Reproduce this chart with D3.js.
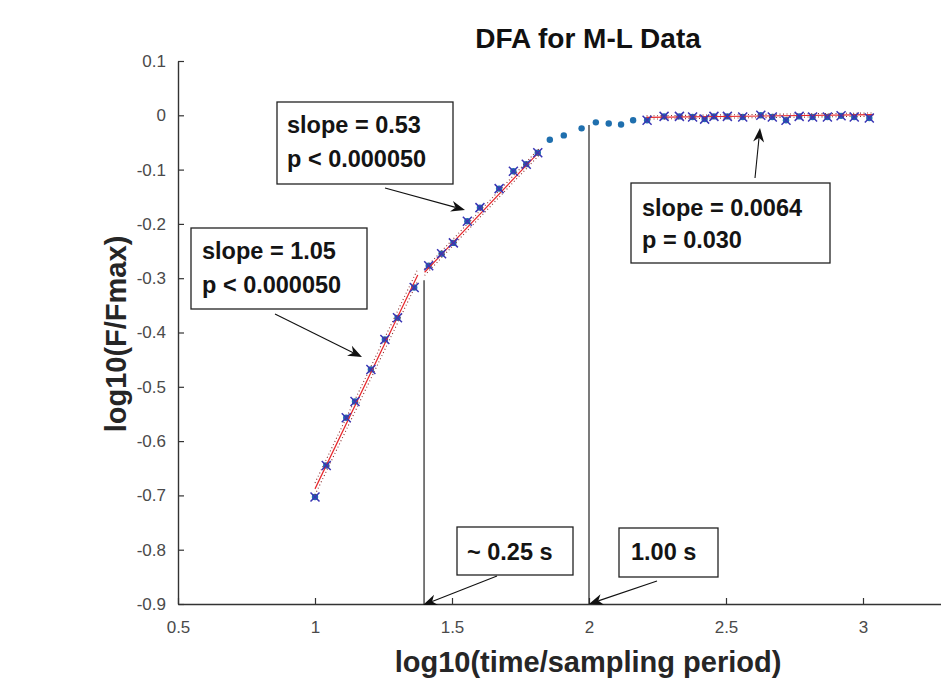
<!DOCTYPE html>
<html>
<head>
<meta charset="utf-8">
<script src="https://cdn.jsdelivr.net/npm/d3@7"></script>
<style>
  body { margin: 0; background: #fff; }
  svg { display: block; font-family: Arial, "Liberation Sans", Helvetica, sans-serif; }
</style>
</head>
<body>
<svg width="941" height="693"></svg>
<script>
// log10(window size) and log10(F/Fmax)
let logN = [1.000, 1.041, 1.114, 1.146, 1.204, 1.255, 1.301, 1.362, 1.415, 1.462,
            1.505, 1.556, 1.602, 1.672, 1.724, 1.771, 1.813, 1.857, 1.908, 1.973,
            2.025, 2.072, 2.117, 2.161, 2.212, 2.274, 2.330, 2.378, 2.422, 2.456,
            2.505, 2.561, 2.627, 2.669, 2.719, 2.767, 2.816, 2.870, 2.920, 2.968, 3.023];
let logF = [-0.703, -0.645, -0.557, -0.527, -0.468, -0.413, -0.373, -0.317, -0.277, -0.255,
            -0.235, -0.195, -0.170, -0.135, -0.103, -0.090, -0.069, -0.045, -0.037, -0.024,
            -0.013, -0.015, -0.017, -0.009, -0.009, -0.002, -0.002, -0.003, -0.007, -0.002,
            -0.002, -0.003, 0.000, -0.003, -0.009, -0.002, -0.003, -0.003, -0.001, -0.003, -0.005];

// the three fitted regimes: first/last point index, fitted line
let fitFirst = [0, 8, 24];
let fitLast = [7, 16, 40];
let fitX0 = [1.0, 1.40, 2.21];
let fitX1 = [1.375, 1.82, 3.04];
let fitY0 = [-0.688, -0.289, -0.004];
let fitSlope = [1.05, 0.53, 0.0064];
let fitBand = [0.011, 0.006, 0.003];

// crossovers: ~0.25 s (25 samples) and 1.00 s (100 samples)
let crossX = [1.398, 2.0];
let crossTop = [-0.304, -0.018];

let xTicks = [0.5, 1, 1.5, 2, 2.5, 3];
let yTicks = [0.1, 0, -0.1, -0.2, -0.3, -0.4, -0.5, -0.6, -0.7, -0.8, -0.9];

let noteText = [
  ['slope = 0.53', 'p < 0.000050'],
  ['slope = 1.05', 'p < 0.000050'],
  ['slope = 0.0064', 'p = 0.030'],
  ['~ 0.25 s'],
  ['1.00 s']
];

let svg = d3.select('svg');

let x = d3.scaleLinear().domain([0.5, 3.5]).range([178, 1000]);
let y = d3.scaleLinear().domain([-0.9, 0.1]).range([604, 61]);

let fmt = d => (d < 0 ? '-' : '') + Math.abs(d);

// axes (ticks point inward like matlab)
let gx = svg.append('g')
    .attr('transform', 'translate(0,' + y(-0.9) + ')')
    .call(d3.axisBottom(x).tickValues(xTicks).tickFormat(fmt).tickSize(-6).tickSizeOuter(0).tickPadding(17));
let gy = svg.append('g')
    .attr('transform', 'translate(' + x(0.5) + ',0)')
    .call(d3.axisLeft(y).tickValues(yTicks).tickFormat(fmt).tickSize(-6).tickSizeOuter(0).tickPadding(12));
[gx, gy].forEach(g => {
  g.select('.domain').attr('stroke', '#333').attr('stroke-width', 1.4);
  g.selectAll('.tick line').attr('stroke', '#333').attr('stroke-width', 1.2);
  g.selectAll('.tick text').attr('fill', '#4a4a4a').style('font-size', '17px')
    .style('font-family', 'Arial, "Liberation Sans", sans-serif');
});

// crossover lines
svg.append('g').selectAll('line')
  .data(crossX)
  .enter().append('line')
    .attr('x1', d => x(d)).attr('x2', d => x(d))
    .attr('y1', (d, i) => y(crossTop[i])).attr('y2', y(-0.9))
    .attr('stroke', '#222').attr('stroke-width', 1.2);

// points
let pts = logN.map((n, i) => ({ n: n, f: logF[i], i: i }));
let isFit = i => fitFirst.some((s, k) => i >= s && i <= fitLast[k]);

// fit lines with dotted bounds
let fits = fitX0.map((x0, k) => ({ x0: x0, x1: fitX1[k], y0: fitY0[k], m: fitSlope[k], b: fitBand[k] }));
let fitG = svg.append('g');
fits.forEach(f => {
  let yEnd = f.y0 + f.m * (f.x1 - f.x0);
  [-f.b, f.b].forEach(o => {
    fitG.append('line')
      .attr('x1', x(f.x0)).attr('y1', y(f.y0 + o))
      .attr('x2', x(f.x1)).attr('y2', y(yEnd + o))
      .attr('stroke', '#8a3030').attr('stroke-width', 1.1)
      .attr('stroke-dasharray', '1,2.5');
  });
});

svg.append('g').selectAll('circle')
  .data(pts)
  .enter().append('circle')
    .attr('cx', d => x(d.n))
    .attr('cy', d => y(d.f))
    .attr('r', 3.2)
    .attr('fill', '#1f6fae');

fits.forEach(f => {
  fitG.append('line')
    .attr('x1', x(f.x0)).attr('y1', y(f.y0))
    .attr('x2', x(f.x1)).attr('y2', y(f.y0 + f.m * (f.x1 - f.x0)))
    .attr('stroke', '#e8262a').attr('stroke-width', 1.2);
});
svg.node().appendChild(fitG.node());

let s = 4.5;
svg.append('g').selectAll('path')
  .data(pts.filter(d => isFit(d.i)))
  .enter().append('path')
    .attr('d', d => {
      let cx = x(d.n), cy = y(d.f);
      return 'M' + (cx - s) + ',' + (cy - s) + 'L' + (cx + s) + ',' + (cy + s) +
             'M' + (cx - s) + ',' + (cy + s) + 'L' + (cx + s) + ',' + (cy - s);
    })
    .attr('stroke', '#3a35b5')
    .attr('stroke-width', 1.5)
    .attr('fill', 'none');

// titles
svg.append('text')
  .attr('x', 588).attr('y', 48)
  .attr('text-anchor', 'middle')
  .style('font-size', '28px').style('font-weight', 'bold').attr('fill', '#111')
  .text('DFA for M-L Data');

svg.append('text')
  .attr('x', 588).attr('y', 672)
  .attr('text-anchor', 'middle')
  .style('font-size', '29px').style('font-weight', 'bold').attr('fill', '#262626')
  .text('log10(time/sampling period)');

svg.append('text')
  .attr('transform', 'translate(126,334) rotate(-90)')
  .attr('text-anchor', 'middle')
  .style('font-size', '29px').style('font-weight', 'bold').attr('fill', '#262626')
  .text('log10(F/Fmax)');

// annotation boxes and arrows (figure pixel layout)
let noteLayout = [
  { box: [277, 102, 176, 82], tx: 287, base: [133, 167], arrow: [385, 188, 465, 210] },
  { box: [191, 228, 176, 81], tx: 202, base: [259, 293], arrow: [275, 314, 362, 357] },
  { box: [631, 183, 199, 80], tx: 642, base: [216, 248], arrow: [755, 178, 760, 128] },
  { box: [457, 527, 116, 48], tx: 467, base: [560], arrow: [497, 576, 423, 605] },
  { box: [619, 528, 99, 49], tx: 631, base: [560], arrow: [657, 581, 589, 604] }
];

function drawArrow(g, a) {
  let ang = Math.atan2(a[3] - a[1], a[2] - a[0]);
  let L = 14, W = 5.5;
  g.append('line')
    .attr('x1', a[0]).attr('y1', a[1])
    .attr('x2', a[2] - Math.cos(ang) * L * 0.7).attr('y2', a[3] - Math.sin(ang) * L * 0.7)
    .attr('stroke', '#111').attr('stroke-width', 1.1);
  g.append('path')
    .attr('d', 'M0,0L' + (-L) + ',' + (-W) + 'L' + (-L * 0.7) + ',0L' + (-L) + ',' + W + 'Z')
    .attr('transform', 'translate(' + a[2] + ',' + a[3] + ') rotate(' + (ang * 180 / Math.PI) + ')')
    .attr('fill', '#111');
}

let notes = svg.append('g');
noteText.forEach((lines, k) => {
  let lay = noteLayout[k];
  notes.append('rect')
    .attr('x', lay.box[0]).attr('y', lay.box[1])
    .attr('width', lay.box[2]).attr('height', lay.box[3])
    .attr('fill', '#fff').attr('stroke', '#222').attr('stroke-width', 1.3);
  lines.forEach((t, j) => {
    notes.append('text')
      .attr('x', lay.tx).attr('y', lay.base[j])
      .style('font-size', '23.5px').style('font-weight', 'bold').attr('fill', '#141414')
      .text(t);
  });
  drawArrow(notes, lay.arrow);
});
</script>
</body>
</html>
